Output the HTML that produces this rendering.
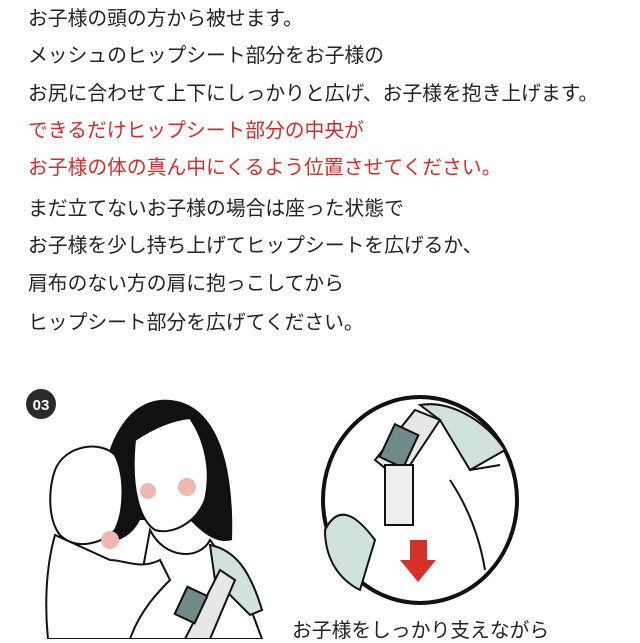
<!DOCTYPE html>
<html><head><meta charset="utf-8"><style>
body{margin:0;width:640px;height:639px;overflow:hidden;background:#fff;position:relative;font-family:"Liberation Sans","Noto Sans CJK JP",sans-serif;}
.t{position:absolute;left:28px;font-size:19.8px;color:#222;white-space:nowrap;line-height:24px;}
.r{color:#d62b2b;}
svg{position:absolute;left:0;top:0;}
</style></head><body>
<div class="t" style="top:7px">お子様の頭の方から被せます。</div>
<div class="t" style="top:44px">メッシュのヒップシート部分をお子様の</div>
<div class="t" style="top:82px">お尻に合わせて上下にしっかりと広げ、お子様を抱き上げます。</div>
<div class="t r" style="top:119px">できるだけヒップシート部分の中央が</div>
<div class="t r" style="top:156px">お子様の体の真ん中にくるよう位置させてください。</div>
<div class="t" style="top:197px">まだ立てないお子様の場合は座った状態で</div>
<div class="t" style="top:234px">お子様を少し持ち上げてヒップシートを広げるか、</div>
<div class="t" style="top:272px">肩布のない方の肩に抱っこしてから</div>
<div class="t" style="top:311px">ヒップシート部分を広げてください。</div>
<svg width="640" height="639" viewBox="0 0 640 639">
<circle cx="41" cy="404" r="15" fill="#2a2a2a"/>
<text x="41" y="410" font-size="15" font-weight="bold" fill="#fff" text-anchor="middle" font-family="Liberation Sans">03</text>
<path d="M100 540 C95 470 115 405 160 400 C210 396 235 450 232 540 C215 545 200 530 190 520 L140 520 C130 540 110 545 100 540Z" fill="#111"/>
<path d="M135 440 C150 430 170 420 190 418 C205 440 212 470 205 500 C195 525 170 535 155 530 C140 520 130 490 135 440Z" fill="#fff" stroke="#111" stroke-width="2"/>
<circle cx="148" cy="491" r="8" fill="#eeb7b0"/><circle cx="187" cy="487" r="9" fill="#eeb7b0"/>
<path d="M150 530 C165 560 200 560 210 540 L240 580 L262 639 L130 639Z" fill="#fff" stroke="#111" stroke-width="2"/>
<path d="M210 545 C235 550 250 570 262 610 L250 615 L215 580Z" fill="#cfe3dc" stroke="#111" stroke-width="2"/>
<path d="M185 639 L220 570 L235 580 L210 639Z" fill="#e7e7e7" stroke="#111" stroke-width="2"/>
<rect x="180" y="590" width="22" height="30" fill="#6f8a88" stroke="#111" stroke-width="2" transform="rotate(25 191 605)"/>
<path d="M55 470 C65 445 100 440 115 455 C125 475 125 510 115 530 C100 545 75 550 60 535 C48 520 48 490 55 470Z" fill="#fff" stroke="#111" stroke-width="2"/>
<circle cx="110" cy="540" r="9" fill="#eeb7b0"/>
<path d="M55 535 C45 570 45 610 48 639 L130 639 C140 610 160 590 170 580 L160 560 C140 570 125 560 110 560Z" fill="#fff" stroke="#111" stroke-width="2"/>
<ellipse cx="420" cy="500" rx="97" ry="103" fill="#fff" stroke="#111" stroke-width="4"/>
<path d="M420 405 C450 400 485 420 505 450 L470 470 L440 420Z" fill="#cfe3dc" stroke="#111" stroke-width="2"/>
<path d="M325 530 C340 500 360 520 375 540 L360 590 C340 580 325 560 325 530Z" fill="#cfe3dc" stroke="#111" stroke-width="2"/>
<path d="M375 460 L415 410 L440 420 L400 480Z" fill="#e7e7e7" stroke="#111" stroke-width="2"/>
<rect x="386" y="428" width="26" height="36" fill="#6f8a88" stroke="#111" stroke-width="2" transform="rotate(25 399 446)"/>
<rect x="385" y="465" width="28" height="60" fill="#eee" stroke="#111" stroke-width="2"/>
<path d="M410 540 L427 540 L427 560 L436 560 L418 582 L400 560 L410 560Z" fill="#d6302b"/>
<path d="M450 480 C470 510 480 540 485 570 M470 470 L500 465" fill="none" stroke="#111" stroke-width="2"/>
</svg>
<div class="t" style="left:292px;top:619px">お子様をしっかり支えながら</div>
</body></html>
